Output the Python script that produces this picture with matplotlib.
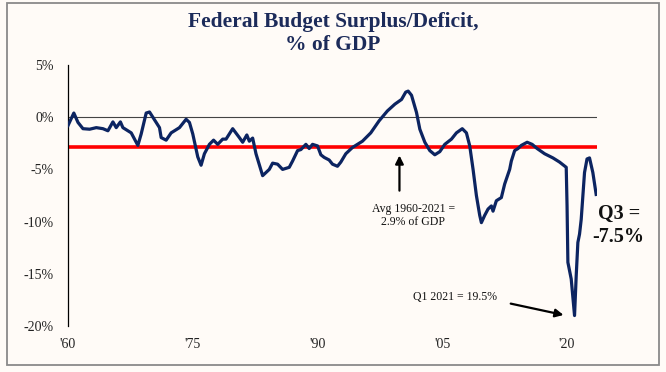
import matplotlib
matplotlib.use("Agg")
import matplotlib.pyplot as plt
from matplotlib.patches import Rectangle

# 12-month rolling federal budget balance, % of GDP
years = [1960.0, 1960.7, 1961.2, 1961.8, 1962.6, 1963.4, 1964.2, 1964.8, 1965.4, 1965.8,
         1966.3, 1966.6, 1967.6, 1968.4, 1968.8, 1969.4, 1969.8, 1970.2, 1971.0, 1971.2,
         1971.8, 1972.4, 1973.4, 1974.2, 1974.6, 1975.0, 1975.6, 1976.0, 1976.4, 1977.0,
         1977.5, 1978.0, 1978.6, 1979.0, 1979.8, 1980.6, 1981.0, 1981.5, 1981.8, 1982.2,
         1982.6, 1983.4, 1984.2, 1984.6, 1985.2, 1985.8, 1986.6, 1987.0, 1987.6, 1988.0,
         1988.6, 1989.0, 1989.4, 1990.0, 1990.4, 1990.8, 1991.4, 1991.8, 1992.4, 1992.8,
         1993.4, 1994.2, 1995.4, 1996.4, 1997.4, 1998.4, 1999.3, 2000.1, 2000.6, 2000.9,
         2001.3, 2001.9, 2002.3, 2002.9, 2003.5, 2004.1, 2004.7, 2005.3, 2006.1, 2006.7,
         2007.4, 2007.9, 2008.3, 2008.7, 2009.1, 2009.5, 2009.7, 2010.1, 2010.5, 2010.9,
         2011.1, 2011.5, 2012.1, 2012.5, 2013.1, 2013.3, 2013.7, 2014.1, 2014.5, 2015.2,
         2015.8, 2016.4, 2017.3, 2018.3, 2019.1, 2019.9, 2020.0, 2020.1, 2020.5, 2020.9,
         2021.1, 2021.3, 2021.5, 2021.7, 2022.1, 2022.4, 2022.7, 2023.1, 2023.5]
deficit = [-0.8, 0.4, -0.5, -1.1, -1.15, -1.0, -1.1, -1.3, -0.45, -1.0,
           -0.45, -1.0, -1.5, -2.7, -1.6, 0.4, 0.5, 0.0, -1.0, -1.95,
           -2.2, -1.5, -1.0, -0.2, -0.5, -1.6, -3.8, -4.6, -3.5, -2.6,
           -2.2, -2.6, -2.1, -2.1, -1.1, -1.95, -2.4, -1.7, -2.3, -2.0,
           -3.5, -5.6, -5.0, -4.4, -4.5, -5.0, -4.8, -4.2, -3.2, -3.1,
           -2.6, -3.0, -2.6, -2.75, -3.6, -3.85, -4.1, -4.5, -4.7, -4.3,
           -3.5, -2.9, -2.3, -1.5, -0.35, 0.6, 1.25, 1.7, 2.4, 2.5,
           2.1, 0.45, -1.15, -2.4, -3.2, -3.6, -3.3, -2.6, -2.1, -1.5,
           -1.1, -1.5, -2.75, -5.0, -7.5, -9.4, -10.1, -9.4, -8.8, -8.5,
           -9.0, -8.0, -7.7, -6.4, -5.0, -4.2, -3.2, -3.0, -2.7, -2.4,
           -2.6, -3.0, -3.5, -3.9, -4.3, -4.8, -8.5, -13.9, -15.5, -19.0,
           -15.2, -12.0, -11.2, -9.8, -5.3, -4.0, -3.9, -5.3, -7.4]
average = -2.9

xticks = [1960, 1975, 1990, 2005, 2020]
xlabels = ["'60", "'75", "'90", "'05", "'20"]
yticks = [5, 0, -5, -10, -15, -20]
ylabels = ["5%", "0%", "-5%", "-10%", "-15%", "-20%"]

bg = "#fffbf7"
navy = "#0c2461"
serif = ["Liberation Serif", "DejaVu Serif"]

fig = plt.figure(figsize=(6.66, 3.72), dpi=100, facecolor=bg)
fig.patches.append(Rectangle((7 / 666, 1 - 365 / 372), 652 / 666, 362 / 372,
                             transform=fig.transFigure, fill=False,
                             edgecolor="#8a8a8a", linewidth=1.3))

ax = fig.add_axes([68 / 666, 1 - 326 / 372, 529 / 666, 261 / 372])
ax.set_facecolor(bg)

ax.axhline(0, color="#444444", linewidth=0.8, zorder=1)
ax.axhline(average, color="#ff0000", linewidth=2.6, zorder=2)
ax.plot(years, deficit, color=navy, linewidth=2.3, zorder=3, solid_joinstyle="round")

ax.set_xlim(1960, 2023.6)
ax.set_ylim(-20, 5)
for s in ["top", "right", "bottom"]:
    ax.spines[s].set_visible(False)
ax.spines["left"].set_linewidth(0.9)
ax.spines["left"].set_color("black")

ax.set_xticks(xticks)
ax.set_xticklabels(xlabels, family=serif, fontsize=10, color="#222222")
ax.set_yticks(yticks)
ax.set_yticklabels(ylabels, family=serif, fontsize=10, color="#222222")
ax.tick_params(length=0)
ax.tick_params(axis="y", pad=10)
ax.tick_params(axis="x", pad=9)

fig.text(0.5, 1 - 34 / 372, "Federal Budget Surplus/Deficit,\n% of GDP", ha="center",
         va="center", family=serif, fontweight="bold", fontsize=15.5, color="#1c2b5a",
         linespacing=1.2)

ax.annotate("", xy=(1999.85, -3.4), xytext=(1999.85, -7.3),
            arrowprops=dict(arrowstyle="-|>", color="black", lw=1.6,
                            mutation_scale=12))
ax.text(2001.5, -9.4, "Avg 1960-2021 =\n2.9% of GDP", ha="center", va="center",
        family=serif, fontsize=8.5, color="#111111", linespacing=1.1)

ax.annotate("", xy=(2019.9, -19.0), xytext=(2012.9, -17.8),
            arrowprops=dict(arrowstyle="-|>", color="black", lw=1.6,
                            mutation_scale=12))
ax.text(2006.5, -17.2, "Q1 2021 = 19.5%", ha="center", va="center",
        family=serif, fontsize=8.5, color="#111111")

ax.text(2026.2, -10.4, "Q3 =\n-7.5%", ha="center", va="center", family=serif,
        fontweight="bold", fontsize=14.5, color="#111111", clip_on=False,
        linespacing=1.2)

fig.savefig("out.png", dpi=100, facecolor=bg)
